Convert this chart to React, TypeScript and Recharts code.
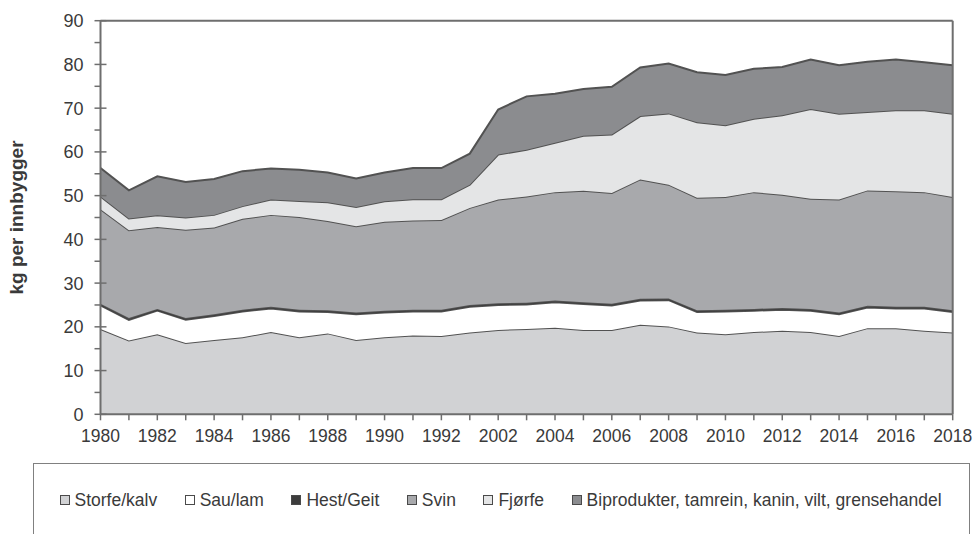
import React from 'react';
import { AreaChart, Area, XAxis, YAxis, ReferenceLine } from 'recharts';

const years = ['1980','1981','1982','1983','1984','1985','1986','1987','1988','1989','1990','1991','1992','1993','2002','2003','2004','2005','2006','2007','2008','2009','2010','2011','2012','2013','2014','2015','2016','2017','2018'];

const storfe = [19.5,16.9,18.3,16.3,17.0,17.6,18.8,17.6,18.5,17.0,17.6,18.0,17.9,18.7,19.3,19.5,19.8,19.3,19.3,20.5,20.1,18.7,18.3,18.8,19.1,18.8,17.9,19.7,19.7,19.1,18.7];
const sau = [5.4,4.7,5.4,5.3,5.5,5.9,5.4,5.9,4.9,5.9,5.7,5.5,5.6,5.9,5.7,5.6,5.8,5.9,5.6,5.5,6.0,4.7,5.2,4.9,4.8,4.9,5.0,4.7,4.5,5.1,4.7];
const hest = [0.4,0.4,0.4,0.4,0.4,0.4,0.4,0.4,0.4,0.4,0.4,0.4,0.4,0.4,0.4,0.4,0.4,0.4,0.4,0.4,0.4,0.4,0.4,0.4,0.4,0.4,0.4,0.4,0.4,0.4,0.4];
const svin = [21.6,20.1,18.7,20.2,19.8,20.8,21.0,21.2,20.4,19.7,20.3,20.4,20.5,22.2,23.7,24.3,24.8,25.5,25.3,27.3,26.0,25.7,25.8,26.7,25.9,25.2,25.8,26.4,26.4,26.2,25.9];
const fjorfe = [2.9,2.7,2.7,2.8,2.9,2.9,3.5,3.7,4.3,4.4,4.7,4.9,4.8,5.3,10.3,10.7,11.3,12.6,13.4,14.5,16.3,17.3,16.4,16.8,18.2,20.5,19.6,17.9,18.5,18.7,19.0];
const biprodukter = [6.5,6.4,8.9,8.1,8.2,8.0,7.1,7.1,6.8,6.5,6.6,7.1,7.1,7.1,10.3,12.2,11.2,10.7,10.9,11.1,11.4,11.4,11.5,11.4,11.0,11.3,11.1,11.5,11.6,11.0,11.1];

const yTicks = [0,5,10,15,20,25,30,35,40,45,50,55,60,65,70,75,80,85,90];

const series = [
  { key: 'storfe', name: 'Storfe/kalv', color: '#d1d2d4', values: storfe },
  { key: 'sau', name: 'Sau/lam', color: '#ffffff', values: sau },
  { key: 'hest', name: 'Hest/Geit', color: '#3c3c3c', values: hest },
  { key: 'svin', name: 'Svin', color: '#a8a9ac', values: svin },
  { key: 'fjorfe', name: 'Fjørfe', color: '#e4e5e6', values: fjorfe },
  { key: 'bi', name: 'Biprodukter, tamrein, kanin, vilt, grensehandel', color: '#8b8c8f', values: biprodukter },
];

const data = years.map((y, i) => {
  const row: Record<string, any> = { year: y };
  series.forEach(s => { row[s.key] = s.values[i]; });
  return row;
});

const FONT = '"Liberation Sans", Arial, Helvetica, sans-serif';
const AXIS = '#6e6e6e';
const TEXT = '#3a3a3a';

const XTick = (props: any) => {
  const { x, y, payload, index } = props;
  return (
    <g>
      <line x1={x} x2={x} y1={y} y2={y + 6} stroke={AXIS} strokeWidth={1.5} />
      {index % 2 === 0 && (
        <text x={x} y={y + 28} textAnchor="middle" fontSize={17.5} fill={TEXT} fontFamily={FONT}>
          {payload.value}
        </text>
      )}
    </g>
  );
};

const YTick = (props: any) => {
  const { x, y, payload } = props;
  const major = payload.value % 10 === 0;
  return (
    <g>
      <line x1={x - 6} x2={major ? x + 6 : x} y1={y} y2={y} stroke={AXIS} strokeWidth={1.5} />
      {major && (
        <text x={x - 17} y={y + 6.5} textAnchor="end" fontSize={18} fill={TEXT} fontFamily={FONT}>
          {payload.value}
        </text>
      )}
    </g>
  );
};

const YLabel = (props: any) => {
  const { viewBox } = props;
  const cy = viewBox.y + viewBox.height / 2;
  const cx = 16;
  return (
    <text
      x={cx}
      y={cy}
      transform={`rotate(-90 ${cx} ${cy})`}
      textAnchor="middle"
      dominantBaseline="central"
      fontSize={19}
      fontWeight="bold"
      fill={TEXT}
      fontFamily={FONT}
    >
      kg per innbygger
    </text>
  );
};

const LegendBox = () => (
  <div
    style={{
      position: 'absolute',
      left: 32.5,
      top: 463,
      width: 937,
      height: 71,
      borderTop: '1.5px solid #808080',
      borderLeft: '1.5px solid #808080',
      borderRight: '1.5px solid #808080',
      boxSizing: 'border-box',
      fontFamily: FONT,
      fontSize: 17.5,
      color: TEXT,
    }}
  >
    <div style={{ position: 'absolute', left: 26, top: 26, display: 'flex', alignItems: 'center', whiteSpace: 'nowrap' }}>
      {series.map(s => (
        <div key={s.key} style={{ display: 'flex', alignItems: 'center', marginRight: 27.5 }}>
          <span
            style={{
              display: 'inline-block',
              width: 10,
              height: 10,
              boxSizing: 'border-box',
              border: '1.5px solid #4a4a4a',
              background: s.color,
              marginRight: 5,
            }}
          />
          <span style={{ lineHeight: '20px' }}>{s.name}</span>
        </div>
      ))}
    </div>
  </div>
);

export default function App() {
  return (
    <div style={{ position: 'absolute', left: 0, top: 0, width: 976, height: 534, background: '#fff' }}>
      <AreaChart
        width={976}
        height={534}
        data={data}
        margin={{ top: 20.7, right: 23.3, left: 40.5, bottom: 89.7 }}
      >
        {series.map(s => (
          <Area
            key={s.key}
            type="linear"
            dataKey={s.key}
            name={s.name}
            stackId="1"
            fill={s.color}
            fillOpacity={1}
            stroke="#525252"
            strokeWidth={2}
            isAnimationActive={false}
            dot={false}
            activeDot={false}
          />
        ))}
        <ReferenceLine y={90} stroke={AXIS} strokeWidth={2} />
        <ReferenceLine x="2018" stroke={AXIS} strokeWidth={2} />
        <XAxis
          dataKey="year"
          type="category"
          interval={0}
          height={30}
          tickSize={0}
          tickMargin={0}
          tickLine={false}
          axisLine={{ stroke: AXIS, strokeWidth: 2 }}
          tick={<XTick />}
        />
        <YAxis
          type="number"
          domain={[0, 90]}
          ticks={yTicks}
          interval={0}
          width={60}
          tickSize={0}
          tickMargin={0}
          tickLine={false}
          axisLine={{ stroke: AXIS, strokeWidth: 2 }}
          tick={<YTick />}
          label={<YLabel />}
        />
      </AreaChart>
      <LegendBox />
    </div>
  );
}
